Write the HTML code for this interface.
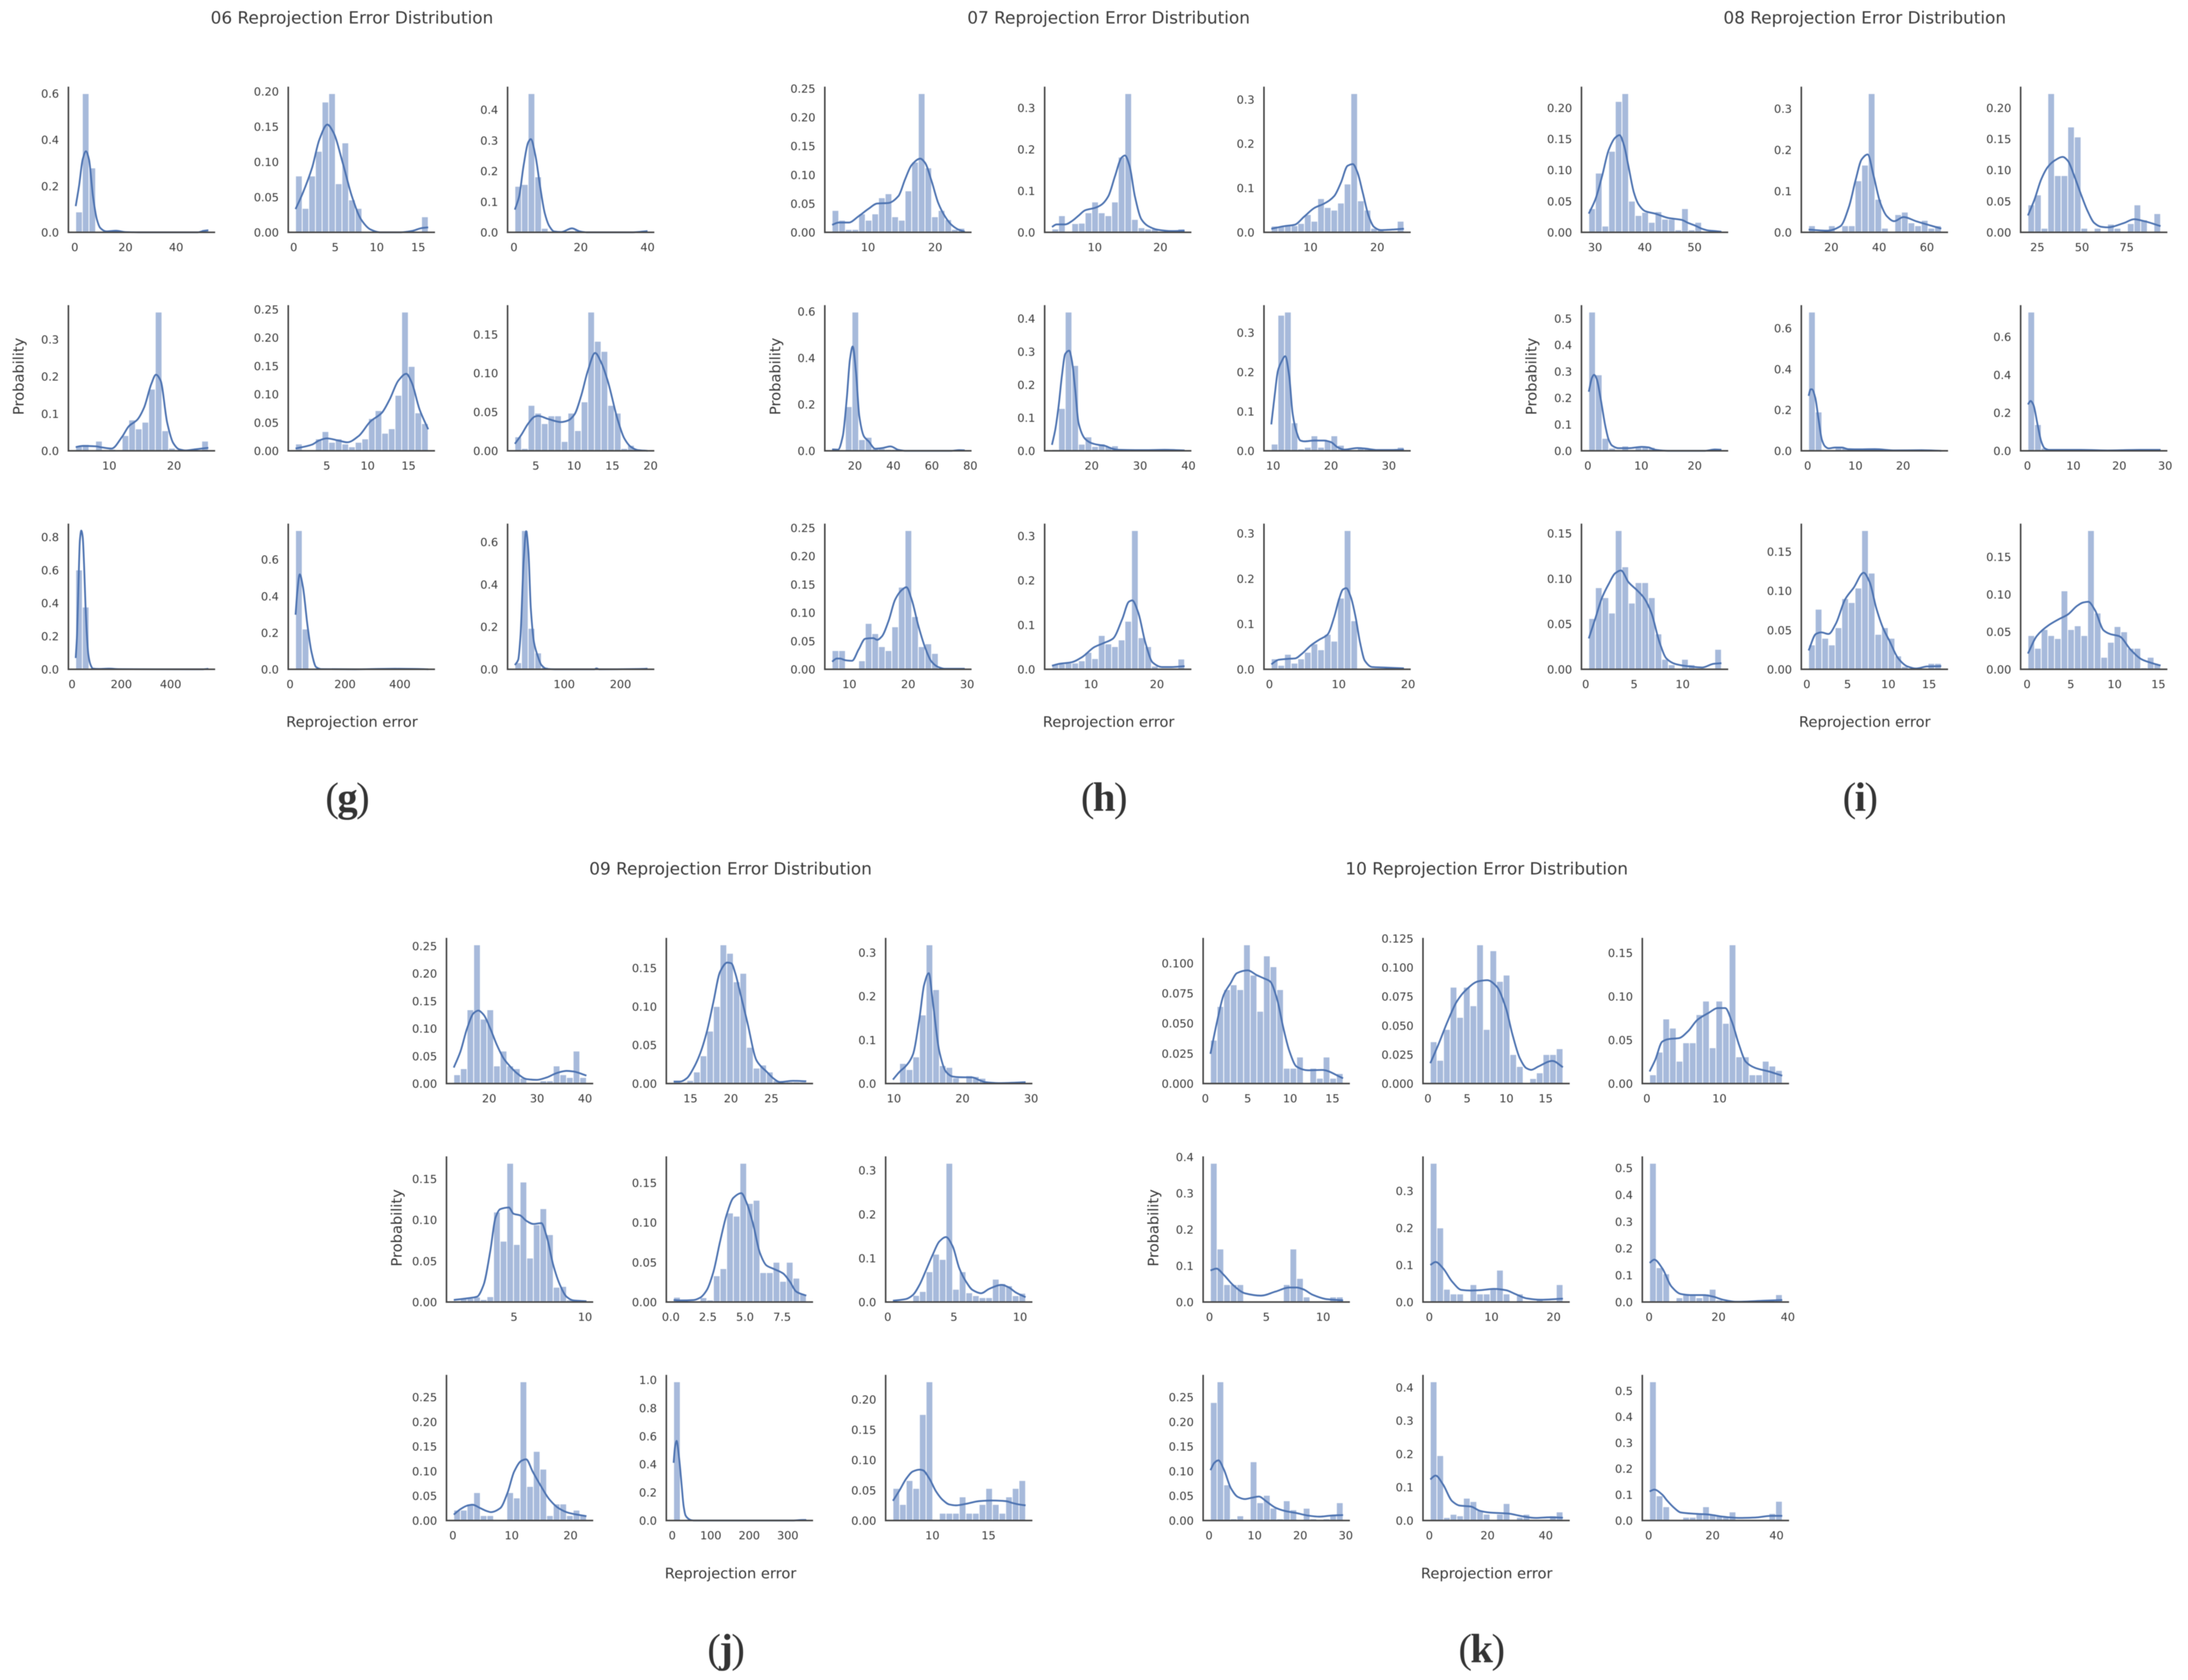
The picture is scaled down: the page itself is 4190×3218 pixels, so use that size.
<!DOCTYPE html>
<html lang="en">
<head>
<meta charset="utf-8">
<title>Reprojection Error Distribution</title>
<style>
html,body{margin:0;padding:0;background:#fff;}
svg{display:block;filter:blur(0.8px);}
.t{font-family:"DejaVu Sans","Liberation Sans",sans-serif;fill:#3a3a3a;}
.title{font-size:32.3px;}
.cap{font-family:"Liberation Serif",serif;font-weight:700;font-size:78px;letter-spacing:-3px;fill:#333;}
.cap .p{font-weight:400;}
</style>
</head>
<body>
<svg id="fig" xmlns="http://www.w3.org/2000/svg" width="4190" height="3218" viewBox="0 0 4190 3218">
<rect width="4190" height="3218" fill="#fff"/>
<text class="t title" x="674" y="45" text-anchor="middle">06 Reprojection Error Distribution</text>
<text class="t title" x="2123" y="45" text-anchor="middle">07 Reprojection Error Distribution</text>
<text class="t title" x="3571" y="45" text-anchor="middle">08 Reprojection Error Distribution</text>
<text class="t title" x="1399" y="1675" text-anchor="middle">09 Reprojection Error Distribution</text>
<text class="t title" x="2847" y="1675" text-anchor="middle">10 Reprojection Error Distribution</text>
<text class="t" x="674" y="1392" font-size="28" text-anchor="middle">Reprojection error</text>
<text class="t" x="2123" y="1392" font-size="28" text-anchor="middle">Reprojection error</text>
<text class="t" x="3571" y="1392" font-size="28" text-anchor="middle">Reprojection error</text>
<text class="t" x="1399" y="3023" font-size="28" text-anchor="middle">Reprojection error</text>
<text class="t" x="2847" y="3023" font-size="28" text-anchor="middle">Reprojection error</text>
<text class="t" font-size="28" text-anchor="middle" transform="translate(45 721) rotate(-90)">Probability</text>
<text class="t" font-size="28" text-anchor="middle" transform="translate(1494 721) rotate(-90)">Probability</text>
<text class="t" font-size="28" text-anchor="middle" transform="translate(2942 721) rotate(-90)">Probability</text>
<text class="t" font-size="28" text-anchor="middle" transform="translate(769 2352) rotate(-90)">Probability</text>
<text class="t" font-size="28" text-anchor="middle" transform="translate(2218 2352) rotate(-90)">Probability</text>
<text class="cap" x="664" y="1553" text-anchor="middle"><tspan class="p">(</tspan>g<tspan class="p">)</tspan></text>
<text class="cap" x="2113" y="1553" text-anchor="middle"><tspan class="p">(</tspan>h<tspan class="p">)</tspan></text>
<text class="cap" x="3561" y="1553" text-anchor="middle"><tspan class="p">(</tspan>i<tspan class="p">)</tspan></text>
<text class="cap" x="1389" y="3184" text-anchor="middle"><tspan class="p">(</tspan>j<tspan class="p">)</tspan></text>
<text class="cap" x="2836" y="3184" text-anchor="middle"><tspan class="p">(</tspan>k<tspan class="p">)</tspan></text>
</svg>
<script>
// Data-unit span of the 20 histogram bins in each of the 30 panels (group 06..10, row by row).
const xRanges = [
[0.37,52.7],[0.22,16.2],[0.28,40],[4.82,25.3],[1.19,17.4],[2.26,19.6],[15,553],[20,503],[12.4,248],
[4.65,24.4],[3.47,23.7],[4.13,24],[8.14,77.1],[11.8,39.2],[9.68,32.6],[7.08,29.6],[4.09,24.2],[0.27,19.4],
[28.74,55.4],[10.5,66],[19.75,94],[0.17,25],[0.19,28],[0.1,29],[0.32,14],[0.22,16.5],[0.1,15.25],
[12.62,40.3],[12.93,29.3],[9.86,29.2],[0.76,10.1],[0.19,9.13],[0.39,10.42],[0.16,22.7],[3.6,348],[6.49,18.3],
[0.6,16.26],[0.3,17.2],[0.38,18.65],[0.08,11.76],[0.15,21.5],[0.13,38.4],[0.31,29.4],[0.32,45.9],[0.29,41.8]
];
// Probability of each bin.
const binHeights = [
[.088,.599,.278,0,0,0,.006,0,0,0,0,0,0,0,0,0,0,0,0,.012],
[.08,.034,.08,.115,.185,.197,.069,.127,.046,.034,0,0,0,0,0,0,0,0,0,.022],
[.15,.156,.4525,.181,.013,0,0,0,.005,.007,0,0,0,0,0,0,0,0,0,.006],
[.012,.017,0,.026,0,.004,0,.041,.083,.059,.077,.166,.3735,.054,.007,0,0,0,0,.026],
[.012,.002,0,.021,.034,.015,.021,.012,.007,.015,.021,.057,.071,.031,.039,.098,.245,.149,.067,.048],
[.018,.003,.0585,.0485,.035,.045,.045,.012,.0485,.026,.063,.1786,.141,.128,.0585,.0485,.003,.007,0,.001],
[.6,.376,0,0,.003,0,0,0,0,0,0,0,0,0,0,0,0,0,0,.002],
[.758,.22,0,0,0,0,0,0,0,0,0,0,0,0,0,0,.002,0,.002,0],
[.031,.654,.193,.077,.01,0,0,0,0,0,0,0,.002,0,0,0,0,0,0,.002],

[.038,.021,.005,.005,.032,.021,.032,.06,.067,.027,.021,.072,.122,.241,.112,.027,.038,.022,.005,.007],
[.008,.04,.002,.021,.022,.047,.073,.047,.04,.073,.181,.334,.031,.011,.008,.008,.002,.002,.002,.008],
[.014,.014,.015,.015,.02,.04,.025,.076,.056,.05,.066,.109,.313,.071,.05,.009,.005,.001,.001,.025],
[.006,0,.19,.597,.048,.058,.009,.009,.006,.006,0,0,0,0,0,0,0,0,0,.004],
[.004,.128,.4195,.258,.02,.042,.013,.021,.013,.015,.003,.001,.001,.001,.001,.001,.001,.001,.001,.001],
[.017,.344,.352,.071,.005,.009,.038,.009,.026,.038,.014,0,.003,.007,.007,0,0,0,0,.009],
[.033,.033,0,0,.015,.081,.063,.04,.033,.075,.145,.245,.093,.04,.045,.028,0,0,.002,.002],
[.011,.012,.014,.014,.019,.038,.024,.076,.057,.051,.066,.108,.312,.071,.051,.007,.002,.001,.001,.023],
[.023,.0087,.033,.0135,.023,.0375,.056,.043,.077,.062,.157,.306,.107,.001,.001,.002,.002,.003,.003,.002],

[.038,.095,.01,.13,.21,.2226,.05,.027,.032,.016,.033,.021,.021,.004,.038,.004,.016,0,0,.003],
[.016,0,0,.016,0,.016,.016,.125,.163,.3366,.08,.01,0,.043,.049,.023,.016,.029,.01,.016],
[.044,.06,.0065,.2226,.091,.091,.169,.153,.0065,0,.0065,0,.013,.0065,0,.014,.044,.02,0,.03],
[.524,.287,.047,.01,0,.018,0,.013,.018,.013,.004,0,0,0,0,0,0,0,0,.005],
[.679,.19,0,0,.013,.013,.007,0,0,0,.002,.002,.002,.002,.002,0,0,.002,.002,0],
[.73,.138,.014,0,0,.002,0,0,0,0,.002,0,0,0,0,0,0,0,.003,.003],
[.056,.09,.079,.062,.153,.113,.073,.0956,.0956,.079,.039,.011,.005,0,.011,.005,0,0,0,.022],
[.031,.0765,.0395,.031,.053,.09,.085,.1035,.1767,.1225,.0445,.053,.0395,.017,.0036,0,0,0,.0075,.0075],
[.045,.028,.053,.045,.041,.1046,.053,.058,.045,.185,.075,.016,.036,.057,.05,.028,.028,.002,.016,.007],

[.016,.027,.134,.252,.117,.134,.032,.059,.032,.027,.0097,0,0,.005,.005,.032,.016,.011,.059,.011],
[.0035,0,.004,.015,.036,.068,.1,.18,.169,.132,.143,.047,.02,.024,.015,.004,0,.002,.002,.002],
[.0015,.046,.032,.061,.157,.3176,.215,.041,.037,.013,.003,.018,.016,.012,.001,0,0,0,0,.003],
[.0016,.0045,.0045,.006,.003,.0065,.1095,.074,.1688,.07,.146,.0535,.094,.1136,.082,.018,.019,.0025,.001,.001],
[.006,.001,.001,0,.0055,.0025,.033,.042,.112,.108,.1745,.124,.128,.037,.037,.05,.026,.05,.03,.01],
[0,0,.001,.015,.024,.069,.109,.097,.316,.029,.069,.021,.0145,.01,.01,.052,.042,.037,.0145,.02],
[.021,.021,.0335,.0565,.01,.01,0,0,.0565,.0457,.281,.069,.14,.104,.01,.0335,.0335,.01,.021,.01],
[.986,0,0,0,0,0,0,0,0,0,0,0,0,0,0,0,0,0,0,.008],
[.053,.0265,.066,.053,.175,.229,0,.012,.012,.012,.039,.012,.012,.0265,.053,.0265,.012,.039,.053,.066],

[.036,.064,.078,.082,.078,.1152,.09,.06,.106,.097,.078,.0127,.0127,.022,0,.0127,.0044,.022,.0044,.0083],
[.036,.02,.0466,.083,.057,.083,.067,.1195,.0466,.1144,.088,.0934,.025,.0147,0,.0043,.0092,.025,.025,.03],
[.01,.036,.074,.0635,.0256,.0467,.0467,.079,.0945,.041,.0945,.069,.159,.0306,.0306,.01,.01,.0256,.02,.015],
[.382,.146,.048,.048,.048,0,0,0,0,0,0,.048,.146,.065,.014,0,0,0,.014,.014],
[.3744,.2,.0345,.0218,.0218,0,.047,.0218,.0218,.037,.086,.0218,0,.0218,0,0,.008,0,0,.047],
[.517,.128,.105,0,.016,.03,.03,.016,.03,.0476,.0075,0,0,0,0,0,0,0,0,.0275],
[.239,.281,.0722,.0035,.0095,0,.119,.036,.051,.025,.0035,.04,.0217,0,.0248,.0035,0,.0035,.0108,.036],
[.4167,.195,.009,.0186,.014,.067,.057,.03,.019,0,.019,.051,0,.0096,.0186,0,0,0,.014,.0257],
[.5347,.095,.053,0,0,.0124,.0124,.025,.053,.025,.018,.0124,.033,0,0,0,0,0,.027,.074]
];
// KDE readings as [position in bin widths from the range start, density].
const kdeCurves = [
[[0,.113],[.5,.2],[1.05,.315],[1.54,.35],[2,.315],[2.6,.156],[3.2,.055],[3.7,.019],[4.6,.004],[6.1,.007],[7.5,.001],[9.6,0],[18.4,0],[19.4,.007],[20,.009]],
[[0,.033],[1.1,.056],[2.5,.092],[3.6,.132],[4.8,.153],[5.7,.142],[7.1,.099],[8.5,.051],[9.9,.018],[11.3,.004],[12.7,0],[15.9,0],[17.6,.002],[19,.006],[20,.007]],
[[0,.074],[.65,.118],[1.3,.216],[2,.293],[2.4,.304],[3.1,.25],[3.8,.15],[4.5,.063],[5.2,.02],[5.9,.003],[7,.001],[8.6,.013],[9.8,.003],[10.8,0],[17.8,0],[20,.004]],
[[0,.01],[1,.013],[3,.012],[4,.009],[5.4,.006],[7,.038],[8,.066],[9.3,.084],[10.3,.116],[11.4,.18],[12.1,.205],[12.8,.189],[13.8,.075],[14.7,.021],[15.6,.004],[16.6,.001],[18,.004],[20,.008]],
[[0,.004],[2.5,.011],[3.5,.018],[4.7,.022],[6.5,.018],[7.8,.015],[9.5,.026],[11.3,.052],[13,.067],[14.2,.091],[15.5,.124],[16.7,.136],[17.5,.121],[18.7,.073],[20,.038]],
[[0,.009],[1,.021],[2,.035],[3,.044],[3.5,.045],[5,.041],[7,.037],[8,.039],[9,.047],[10,.071],[11,.103],[12.1,.126],[13,.114],[14,.09],[15.5,.04],[16.5,.016],[17.5,.005],[18.5,.001],[20,0]],
[[0,.068],[.2,.21],[.42,.52],[.63,.78],[.84,.838],[1.05,.8],[1.26,.63],[1.47,.39],[1.68,.21],[1.9,.09],[2.25,.026],[2.6,.004],[3.5,.002],[5,.004],[6.5,.001],[18,0],[19.2,0],[20,.003]],
[[0,.298],[.25,.418],[.63,.519],[1.1,.453],[1.8,.239],[2.4,.095],[3.1,.012],[3.9,.001],[9,0],[15,.003],[18,.002],[20,0]],
[[0,.02],[.5,.045],[.84,.155],[1.33,.515],[1.7,.651],[2.04,.556],[2.4,.288],[2.9,.124],[3.4,.067],[4,.02],[4.8,.002],[6,0],[12,0],[12.3,.004],[12.7,0],[19.5,.002],[20,.003]],

[[0,.013],[1,.017],[2.5,.017],[4,.028],[5.5,.041],[6.8,.05],[8.5,.051],[10,.063],[11,.092],[12,.117],[13.3,.128],[14,.121],[15,.089],[16,.051],[17,.028],[18,.013],[19,.005],[20,.001]],
[[0,.013],[.7,.019],[2,.019],[3,.027],[4,.04],[5,.053],[6.5,.059],[7.5,.067],[8.5,.087],[9.5,.135],[10.5,.18],[11,.185],[11.7,.16],[12.5,.087],[13.5,.031],[14.5,.015],[16,.006],[18,.003],[20,.004]],
[[0,.008],[2,.014],[3.5,.017],[5,.036],[6.5,.055],[8,.065],[9.5,.082],[10.5,.112],[11.5,.15],[12.3,.154],[13,.135],[13.8,.089],[14.7,.036],[15.5,.012],[16.5,.005],[18,.006],[20,.008]],
[[0,.006],[.9,.005],[1.6,.062],[2.2,.222],[2.7,.396],[3.1,.449],[3.6,.338],[4.1,.149],[4.8,.062],[5.5,.041],[6.5,.009],[7.6,.012],[8.8,.019],[10,.004],[11,0],[18,0],[19.2,.003],[20,.002]],
[[0,.018],[.5,.064],[1,.135],[1.5,.227],[2,.293],[2.6,.303],[3,.273],[3.5,.186],[4,.085],[5,.036],[6,.023],[7,.018],[8,.015],[9,.007],[10,.003],[14,.002],[17,.003],[20,.001]],
[[0,.067],[.5,.139],[1,.203],[1.5,.225],[2.1,.24],[2.7,.19],[3.2,.097],[3.7,.054],[4.4,.026],[5,.024],[6.5,.026],[8,.026],[9,.022],[10,.009],[11,.003],[13,.007],[14,.006],[16,.002],[18,.002],[20,.003]],
[[0,.0135],[.7,.019],[1.2,.019],[2,.016],[3,.015],[4,.035],[5,.054],[6.2,.055],[6.8,.052],[7.5,.058],[8.5,.085],[9.5,.123],[10.5,.14],[11.2,.145],[12,.123],[13,.077],[14,.039],[15,.0135],[16,.004],[17,.001],[19,.001],[20,.001]],
[[0,.008],[1,.012],[3,.016],[4.5,.027],[6.4,.05],[7.8,.059],[9.2,.069],[10.6,.113],[11.6,.152],[12.1,.155],[13,.128],[14.1,.059],[15.2,.015],[16.6,.005],[18,.005],[20,.007]],
[[0,.011],[1.1,.021],[2.5,.023],[3.6,.024],[4.6,.034],[6,.053],[7.2,.065],[8.5,.077],[9.5,.116],[10.2,.154],[10.8,.176],[11.3,.179],[12,.159],[12.7,.116],[13.4,.058],[14.1,.019],[15.2,.005],[16.9,.004],[20,.002]],

[[0,.03],[1,.053],[2,.09],[3,.132],[4,.152],[4.64,.156],[5.3,.14],[6,.105],[6.8,.064],[7.5,.045],[8.5,.034],[10,.03],[12,.023],[14,.02],[15,.015],[16,.011],[17,.006],[18,.003],[19,.002],[20,.001]],
[[0,.0065],[2.8,.004],[4.8,.015],[6.1,.063],[7.1,.128],[8,.177],[8.9,.189],[9.8,.137],[10.8,.072],[11.8,.039],[12.9,.027],[14.3,.037],[16.2,.027],[20,.009]],
[[0,.027],[1,.053],[2,.085],[3,.105],[4,.115],[5.25,.121],[6,.115],[7,.09],[8.1,.058],[9,.034],[10,.015],[11,.009],[12,.008],[14.5,.015],[16,.021],[17.5,.018],[20,.01]],
[[0,.223],[.5,.277],[.8,.287],[1.2,.271],[1.8,.195],[2.5,.093],[3,.042],[3.5,.02],[4.5,.01],[6,.01],[8,.015],[9,.013],[10,.004],[12,0],[17.5,0],[19,.005],[20,.004]],
[[0,.269],[.3,.301],[.5,.301],[1,.26],[1.5,.153],[2,.054],[2.5,.021],[3,.012],[4,.016],[5,.016],[6,.008],[7,.007],[10,.008],[13,.002],[17,.003],[20,0]],
[[0,.244],[.4,.262],[.8,.244],[1.5,.129],[2,.05],[2.5,.014],[3.2,.005],[8,.005],[12,.002],[17,.005],[20,.005]],
[[0,.034],[.94,.055],[2,.079],[3,.094],[4,.106],[4.85,.109],[6,.096],[7.3,.087],[8.3,.079],[9.4,.063],[10.7,.029],[11.7,.012],[13,.006],[14.7,.0036],[17.1,.002],[18.8,.006],[20,.0067]],
[[0,.024],[1.1,.045],[1.9,.047],[3,.045],[4.1,.058],[5.5,.089],[6.8,.104],[8.3,.123],[9.2,.111],[10.2,.078],[11.2,.053],[12.2,.036],[13.5,.014],[14.9,.0036],[16.2,.001],[17.9,.0036],[20,.004]],
[[0,.021],[1.3,.044],[3,.058],[4.7,.067],[6,.073],[7.4,.0845],[8.3,.089],[9.1,.09],[10.1,.079],[11.4,.052],[12.4,.047],[13.8,.044],[15.5,.026],[17.2,.013],[18.8,.008],[20,.005]],

[[0,.029],[1,.058],[2,.1],[3,.128],[3.7,.1326],[4.5,.125],[5.5,.1],[6.5,.07],[7.5,.046],[8.5,.031],[9.5,.019],[11,.008],[12.5,.0067],[14,.011],[15.5,.019],[17,.023],[18,.022],[20,.0145]],
[[0,.0026],[1,.0026],[2,.007],[3,.02],[4,.039],[5,.067],[6,.106],[7,.145],[8.1,.157],[8.7,.156],[9.3,.143],[10,.119],[11.1,.08],[12.5,.03],[13.2,.022],[14,.0156],[15,.007],[16,.002],[18,.0035],[20,.003]],
[[0,.009],[1,.027],[2,.041],[3,.066],[4,.15],[4.7,.226],[5.4,.2527],[6,.188],[7,.073],[8,.027],[9,.016],[10,.0145],[12,.014],[13,.008],[14,.003],[16,.001],[20,.003]],
[[0,.0025],[2,.0045],[3.5,.0065],[4.5,.021],[5.5,.062],[6.3,.103],[7,.113],[8.3,.115],[9,.1075],[10,.1054],[11,.0985],[12,.095],[13.2,.096],[14,.08],[15,.045],[16,.021],[17,.0065],[18,.002],[20,.001]],
[[0,.0025],[1,.002],[3,.0025],[4,.0055],[5,.015],[6,.038],[7,.076],[8,.11],[9,.131],[10.2,.137],[11,.125],[12,.0975],[13,.062],[14,.046],[15,.042],[16.5,.036],[17.5,.026],[18.5,.013],[20,.008]],
[[0,.003],[2,.007],[3,.016],[4,.039],[5,.073],[6,.108],[7,.138],[8,.148],[9,.127],[10,.077],[11,.047],[12,.0275],[13.3,.02],[14.5,.03],[16.4,.039],[17.5,.033],[18.5,.022],[20,.011]],
[[0,.012],[1,.023],[2,.03],[2.8,.032],[4,.025],[5,.019],[5.6,.017],[7,.025],[8.1,.056],[9.1,.099],[10.2,.121],[10.9,.124],[11.9,.099],[13,.073],[14.4,.043],[15.8,.025],[17.2,.016],[20,.0087]],
[[0,.41],[.2,.52],[.45,.566],[.8,.455],[1.2,.256],[1.5,.105],[1.8,.036],[2.3,.01],[2.6,.003],[3,0],[18,0],[19.5,.004],[20,.004]],
[[0,.0325],[1,.05],[2,.069],[3,.081],[4,.084],[4.5,.083],[5.5,.069],[6.5,.048],[7.5,.034],[8.5,.0265],[9.5,.025],[11,.0275],[13,.032],[15,.033],[17,.032],[18,.029],[19,.0265],[20,.025]],

[[0,.0247],[1,.0515],[2,.0737],[3,.083],[4,.0917],[5.6,.094],[7,.09],[8,.0875],[9,.0848],[10,.071],[11,.046],[11.9,.027],[13,.014],[14.7,.011],[16.8,.0113],[20,.0044]],
[[0,.0175],[1.2,.0333],[2.6,.0534],[4,.0707],[5.4,.0807],[7.2,.088],[8.6,.089],[10,.0836],[11.4,.065],[12.4,.042],[13.5,.0218],[14.5,.0132],[15.2,.0118],[16.3,.0147],[18.4,.0195],[20,.0141]],
[[0,.0138],[.84,.027],[1.9,.048],[2.9,.051],[4.4,.052],[5.8,.06],[7.2,.073],[8.9,.081],[10.3,.0865],[11.4,.0865],[12.4,.071],[13.5,.044],[14.5,.025],[15.9,.018],[18,.0138],[20,.009]],
[[0,.087],[.9,.092],[2,.075],[3.4,.047],[5.2,.024],[7.6,.0176],[9.8,.0287],[11.9,.04],[13,.04],[14,.035],[15.4,.02],[17.5,.008],[20,.0046]],
[[0,.1],[.8,.108],[1.9,.0916],[3.3,.055],[4.7,.0326],[6.1,.031],[7.5,.032],[9.6,.0354],[11.4,.032],[12.8,.0218],[14.5,.01],[16.6,.0063],[20,.009]],
[[0,.146],[.7,.158],[1.9,.126],[3.3,.0576],[4.7,.03],[6.1,.026],[8.2,.026],[9.6,.02],[11,.009],[13.1,.001],[17.3,.005],[20,.0075]],
[[0,.102],[.6,.117],[1.2,.122],[2,.104],[3.1,.065],[4.1,.048],[5.2,.0434],[6.2,.046],[7.3,.0486],[8.4,.039],[9.8,.026],[11.2,.0195],[13,.015],[14.7,.01],[16.4,.0078],[18.2,.01],[20,.011]],
[[0,.1235],[.8,.135],[1.9,.109],[3.3,.058],[4.4,.045],[6.1,.042],[7.5,.029],[8.9,.024],[11.7,.021],[13.8,.013],[15.9,.0077],[18,.0096],[20,.0084]],
[[0,.112],[.7,.119],[1.9,.1],[2.6,.078],[3.65,.05],[4.7,.031],[6.8,.026],[8.9,.023],[11,.015],[13.5,.01],[15.9,.0115],[18.4,.018],[20,.018]]
];
// Tick label strings for every panel.
const xTickLabels = [
["0","20","40"],["0","5","10","15"],["0","20","40"],["10","20"],["5","10","15"],["5","10","15","20"],["0","200","400"],["0","200","400"],["100","200"],
["10","20"],["10","20"],["10","20"],["20","40","60","80"],["20","30","40"],["10","20","30"],["10","20","30"],["10","20"],["0","10","20"],
["30","40","50"],["20","40","60"],["25","50","75"],["0","10","20"],["0","10","20"],["0","10","20","30"],["0","5","10"],["0","5","10","15"],["0","5","10","15"],
["20","30","40"],["15","20","25"],["10","20","30"],["5","10"],["0.0","2.5","5.0","7.5"],["0","5","10"],["0","10","20"],["0","100","200","300"],["10","15"],
["0","5","10","15"],["0","5","10","15"],["0","10"],["0","5","10"],["0","10","20"],["0","20","40"],["0","10","20","30"],["0","20","40"],["0","20","40"]
];
const yTickLabels = [
["0.0","0.2","0.4","0.6"],["0.00","0.05","0.10","0.15","0.20"],["0.0","0.1","0.2","0.3","0.4"],
["0.0","0.1","0.2","0.3"],["0.00","0.05","0.10","0.15","0.20","0.25"],["0.00","0.05","0.10","0.15"],
["0.0","0.2","0.4","0.6","0.8"],["0.0","0.2","0.4","0.6"],["0.0","0.2","0.4","0.6"],

["0.00","0.05","0.10","0.15","0.20","0.25"],["0.0","0.1","0.2","0.3"],["0.0","0.1","0.2","0.3"],
["0.0","0.2","0.4","0.6"],["0.0","0.1","0.2","0.3","0.4"],["0.0","0.1","0.2","0.3"],
["0.00","0.05","0.10","0.15","0.20","0.25"],["0.0","0.1","0.2","0.3"],["0.0","0.1","0.2","0.3"],

["0.00","0.05","0.10","0.15","0.20"],["0.0","0.1","0.2","0.3"],["0.00","0.05","0.10","0.15","0.20"],
["0.0","0.1","0.2","0.3","0.4","0.5"],["0.0","0.2","0.4","0.6"],["0.0","0.2","0.4","0.6"],
["0.00","0.05","0.10","0.15"],["0.00","0.05","0.10","0.15"],["0.00","0.05","0.10","0.15"],

["0.00","0.05","0.10","0.15","0.20","0.25"],["0.00","0.05","0.10","0.15"],["0.0","0.1","0.2","0.3"],
["0.00","0.05","0.10","0.15"],["0.00","0.05","0.10","0.15"],["0.0","0.1","0.2","0.3"],
["0.00","0.05","0.10","0.15","0.20","0.25"],["0.0","0.2","0.4","0.6","0.8","1.0"],["0.00","0.05","0.10","0.15","0.20"],

["0.000","0.025","0.050","0.075","0.100"],["0.000","0.025","0.050","0.075","0.100","0.125"],["0.00","0.05","0.10","0.15"],
["0.0","0.1","0.2","0.3","0.4"],["0.0","0.1","0.2","0.3"],["0.0","0.1","0.2","0.3","0.4","0.5"],
["0.00","0.05","0.10","0.15","0.20","0.25"],["0.0","0.1","0.2","0.3","0.4"],["0.0","0.1","0.2","0.3","0.4","0.5"]
];

const NS = 'http://www.w3.org/2000/svg';
const fig = document.getElementById('fig');
const groupLefts = [131, 1579.5, 3028.5, 855, 2304];
const groupTopShift = [0, 0, 0, 1630.5, 1630.5];
const colOffsets = [0, 421, 841];
const rowTops = [166, 584.5, 1003];
const AXW = 281, AXH = 279, PADL = 14, DATAW = 254;
const groupNames = ['06', '07', '08', '09', '10'];

function make(tag, parent) {
  const e = document.createElementNS(NS, tag);
  parent.appendChild(e);
  return e;
}

// Monotone cubic path through pixel points.
function monotonePath(pts) {
  const n = pts.length;
  const dx = [], slope = [], tan = new Array(n);
  for (let i = 0; i < n - 1; i++) {
    dx[i] = pts[i + 1][0] - pts[i][0];
    slope[i] = (pts[i + 1][1] - pts[i][1]) / dx[i];
  }
  tan[0] = slope[0];
  tan[n - 1] = slope[n - 2];
  for (let i = 1; i < n - 1; i++) {
    if (slope[i - 1] * slope[i] <= 0) {
      tan[i] = 0;
    } else {
      const w1 = 2 * dx[i] + dx[i - 1], w2 = dx[i] + 2 * dx[i - 1];
      tan[i] = (w1 + w2) / (w1 / slope[i - 1] + w2 / slope[i]);
    }
  }
  let d = 'M' + pts[0][0].toFixed(2) + ' ' + pts[0][1].toFixed(2);
  for (let i = 0; i < n - 1; i++) {
    const h = dx[i] / 3;
    d += 'C' + (pts[i][0] + h).toFixed(2) + ' ' + (pts[i][1] + tan[i] * h).toFixed(2) + ' ' +
      (pts[i + 1][0] - h).toFixed(2) + ' ' + (pts[i + 1][1] - tan[i + 1] * h).toFixed(2) + ' ' +
      pts[i + 1][0].toFixed(2) + ' ' + pts[i + 1][1].toFixed(2);
  }
  return d;
}

function drawPanel(idx, left, top) {
  const bins = binHeights[idx];
  const kde = kdeCurves[idx];
  const range = xRanges[idx];
  const base = top + AXH;
  const peak = Math.max(Math.max.apply(null, bins), Math.max.apply(null, kde.map(function (p) { return p[1]; })));
  const yMax = peak * 1.05;
  const binStep = (range[1] - range[0]) / bins.length;
  const xScale = function (v) { return left + PADL + (v - range[0]) / (range[1] - range[0]) * DATAW; };
  const yScale = function (v) { return base - v / yMax * AXH; };

  const g = make('g', fig);
  
  

  bins.forEach(function (v, i) {
    if (v <= 0) return;
    const x0 = xScale(range[0] + i * binStep), x1 = xScale(range[0] + (i + 1) * binStep);
    const r = make('rect', g);
    
    
    r.setAttribute('x', x0.toFixed(2));
    r.setAttribute('y', yScale(v).toFixed(2));
    r.setAttribute('width', (x1 - x0).toFixed(2));
    r.setAttribute('height', (base - yScale(v)).toFixed(2));
    r.setAttribute('fill', '#a7badb');
    r.setAttribute('stroke', '#fff');
    r.setAttribute('stroke-width', '1.5');
  });

  const line = make('path', g);
  
  
  line.setAttribute('d', monotonePath(kde.map(function (p) {
    return [xScale(range[0] + p[0] * binStep), yScale(p[1])];
  })));
  line.setAttribute('fill', 'none');
  line.setAttribute('stroke', '#4c72b0');
  line.setAttribute('stroke-width', '3.4');
  line.setAttribute('stroke-linejoin', 'round');

  const ySpine = make('line', g);
  
  
  ySpine.setAttribute('x1', left);
  ySpine.setAttribute('x2', left);
  ySpine.setAttribute('y1', top);
  ySpine.setAttribute('y2', base + 1.5);
  ySpine.setAttribute('stroke', '#444');
  ySpine.setAttribute('stroke-width', '3');

  const xSpine = make('line', g);
  
  
  xSpine.setAttribute('x1', left - 1.5);
  xSpine.setAttribute('x2', left + AXW);
  xSpine.setAttribute('y1', base);
  xSpine.setAttribute('y2', base);
  xSpine.setAttribute('stroke', '#444');
  xSpine.setAttribute('stroke-width', '3');

  xTickLabels[idx].forEach(function (s) {
    const t = make('text', g);
    
    
    t.setAttribute('class', 't');
    t.setAttribute('font-size', '21.5');
    t.setAttribute('text-anchor', 'middle');
    t.setAttribute('x', xScale(parseFloat(s)).toFixed(2));
    t.setAttribute('y', (base + 36).toFixed(2));
    t.textContent = s;
  });
  yTickLabels[idx].forEach(function (s) {
    const t = make('text', g);
    
    
    t.setAttribute('class', 't');
    t.setAttribute('font-size', '21.5');
    t.setAttribute('text-anchor', 'end');
    t.setAttribute('x', (left - 18).toFixed(2));
    t.setAttribute('y', (yScale(parseFloat(s)) + 8).toFixed(2));
    t.textContent = s;
  });
}

groupNames.forEach(function (name, gi) {
  for (let r = 0; r < 3; r++) {
    for (let c = 0; c < 3; c++) {
      drawPanel(gi * 9 + r * 3 + c, groupLefts[gi] + colOffsets[c], rowTops[r] + groupTopShift[gi]);
    }
  }
});
</script>
</body>
</html>
